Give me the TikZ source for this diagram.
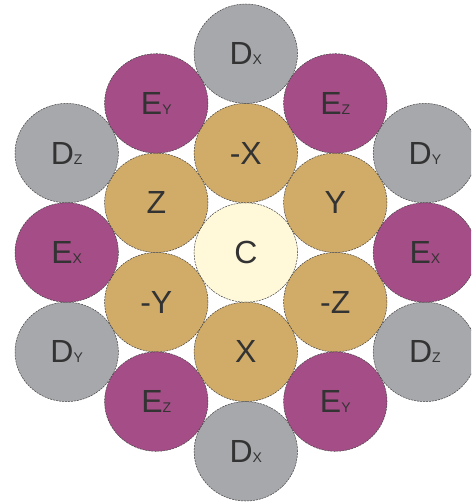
\documentclass[tikz,border=0pt]{standalone}
\usepackage{fontspec}
\setmainfont{Liberation Sans}
\usetikzlibrary{shapes.geometric}
\definecolor{dgray}{HTML}{A7A8AC}
\definecolor{epurple}{HTML}{A54D87}
\definecolor{tan}{HTML}{D1AB68}
\definecolor{ccream}{HTML}{FFF9DA}
\definecolor{txt}{HTML}{333333}
\definecolor{rim}{HTML}{444444}
\newcommand\sml[1]{{\fontsize{14}{14}\selectfont #1}}
\begin{document}
\begin{tikzpicture}[x=1pt,y=-1pt,
  ball/.style={ellipse, minimum width=103.4pt, minimum height=99.4pt, inner sep=0pt,
    draw=rim, line width=0.5pt, dash pattern=on 2pt off 1pt, text=txt,
    font=\fontsize{32}{32}\selectfont},
  dball/.style={ball, fill=dgray},
  eball/.style={ball, fill=epurple},
  iball/.style={ball, fill=tan},
  cball/.style={ball, fill=ccream}]
\useasboundingbox (0,0) rectangle (471,502);
\fill[white] (0,0) rectangle (471,502);
\clip (0,0) rectangle (471,502);
% unit offsets: rx = 51.7, ry = 49.7 ; centre (245.8,252.5)
% inner ring
\node[cball] (c) at (245.8,252.5) {C};
\node[iball] (mx) at (245.8,153.1) {-X};
\node[iball] (x) at (245.8,351.9) {X};
\node[iball] (y) at (335.3,202.8) {Y};
\node[iball] (mz) at (335.3,302.2) {-Z};
\node[iball] (z) at (156.3,202.8) {Z};
\node[iball] (my) at (156.3,302.2) {-Y};
% outer D
\node[dball] (dxt) at (245.8,53.7) {D\sml{X}};
\node[dball] (dxb) at (245.8,451.3) {D\sml{X}};
\node[dball] (dyr) at (424.9,153.1) {D\sml{Y}};
\node[dball] (dzr) at (424.9,351.9) {D\sml{Z}};
\node[dball] (dzl) at (66.7,153.1) {D\sml{Z}};
\node[dball] (dyl) at (66.7,351.9) {D\sml{Y}};
% outer E
\node[eball] (eyt) at (156.3,103.4) {E\sml{Y}};
\node[eball] (ezt) at (335.3,103.4) {E\sml{Z}};
\node[eball] (exr) at (424.9,252.5) {E\sml{X}};
\node[eball] (exl) at (66.7,252.5) {E\sml{X}};
\node[eball] (ezb) at (156.3,401.6) {E\sml{Z}};
\node[eball] (eyb) at (335.3,401.6) {E\sml{Y}};
\end{tikzpicture}
\end{document}
